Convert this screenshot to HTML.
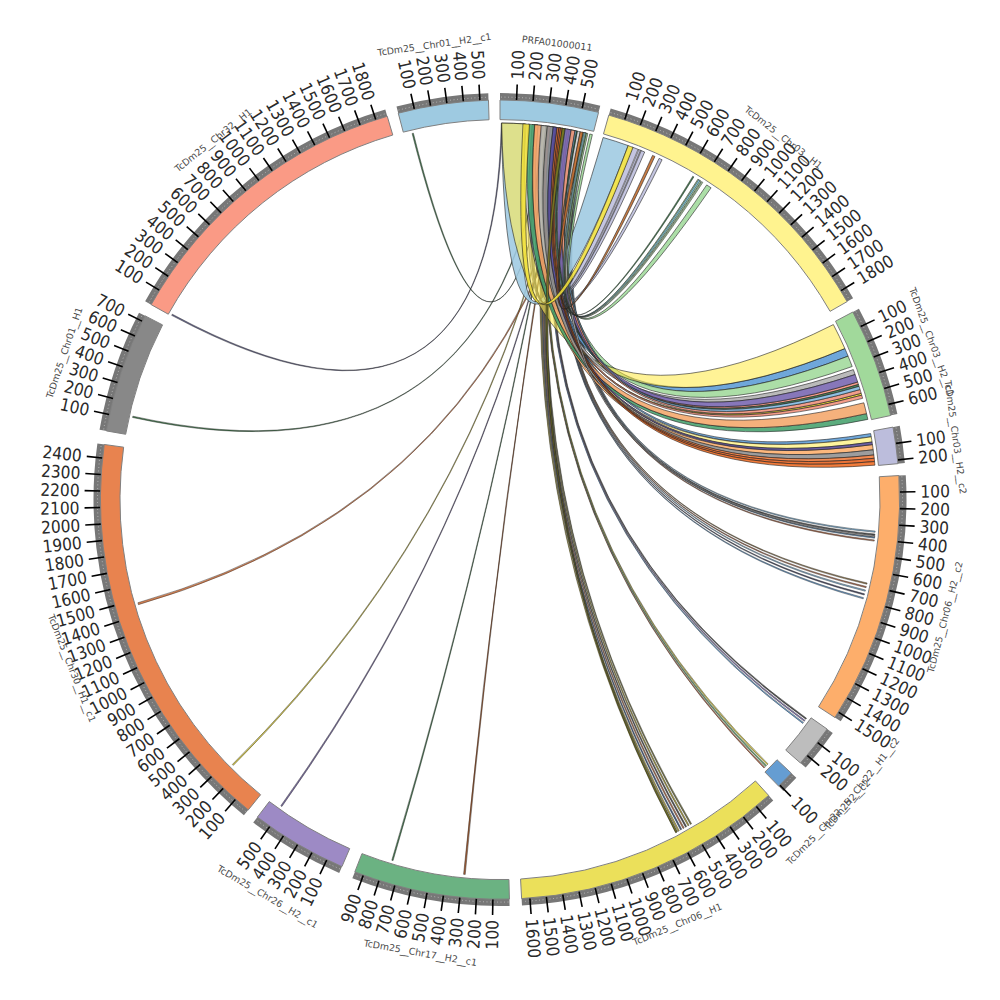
<!DOCTYPE html><html><head><meta charset="utf-8"><title>Circos plot</title><style>
html,body{margin:0;padding:0;background:#fff;width:1000px;height:1000px;overflow:hidden}
svg{display:block}
.tl{font-family:"DejaVu Sans","Liberation Sans",sans-serif;font-stretch:condensed;font-size:17.2px;fill:#2a2a2a}
.nm{font-family:"DejaVu Sans","Liberation Sans",sans-serif;font-size:9.4px;fill:#4a4a4a}.nm .u{letter-spacing:-0.55px}
</style></head><body>
<svg width="1000" height="1000" viewBox="0 0 1000 1000">
<rect width="1000" height="1000" fill="#fff"/>
<g stroke="#222" stroke-width="0.6" stroke-linejoin="round">
<path d="M582.13,132.17 A376.5,376.5 0 0 1 583.09,132.38 Q502.62,497.73 874.33,539.94 A376.5,376.5 0 0 1 874.20,541.11 Q502.49,497.82 582.13,132.17 Z" fill="#b0603a" fill-opacity="0.88" stroke-width="0.45"/>
<path d="M583.54,132.49 A376.5,376.5 0 0 1 584.50,132.71 Q502.88,497.53 874.64,536.99 A376.5,376.5 0 0 1 874.52,538.17 Q502.75,497.63 583.54,132.49 Z" fill="#5b9bd5" fill-opacity="0.88" stroke-width="0.45"/>
<path d="M584.95,132.81 A376.5,376.5 0 0 1 585.91,133.03 Q503.14,497.34 874.92,534.05 A376.5,376.5 0 0 1 874.81,535.23 Q503.01,497.43 584.95,132.81 Z" fill="#3a3a3a" fill-opacity="0.88" stroke-width="0.45"/>
<path d="M586.36,133.14 A376.5,376.5 0 0 1 587.32,133.37 Q503.40,497.14 875.18,531.10 A376.5,376.5 0 0 1 875.08,532.28 Q503.27,497.24 586.36,133.14 Z" fill="#7fb8e0" fill-opacity="0.88" stroke-width="0.45"/>
<path d="M571.19,129.89 A376.5,376.5 0 0 1 572.16,130.08 Q500.00,499.60 863.50,597.68 A376.5,376.5 0 0 1 863.19,598.82 Q500.00,499.60 571.19,129.89 Z" fill="#5b9bd5" fill-opacity="0.88" stroke-width="0.45"/>
<path d="M572.48,130.14 A376.5,376.5 0 0 1 573.45,130.33 Q500.00,499.60 864.51,593.87 A376.5,376.5 0 0 1 864.21,595.01 Q500.00,499.60 572.48,130.14 Z" fill="#3a3a5a" fill-opacity="0.88" stroke-width="0.45"/>
<path d="M573.77,130.40 A376.5,376.5 0 0 1 574.74,130.59 Q500.00,499.60 865.47,590.05 A376.5,376.5 0 0 1 865.19,591.19 Q500.00,499.60 573.77,130.40 Z" fill="#7fb8e0" fill-opacity="0.88" stroke-width="0.45"/>
<path d="M575.06,130.66 A376.5,376.5 0 0 1 576.03,130.86 Q500.00,499.60 866.33,586.53 A376.5,376.5 0 0 1 866.05,587.68 Q500.00,499.60 575.06,130.66 Z" fill="#b0603a" fill-opacity="0.88" stroke-width="0.45"/>
<path d="M576.35,130.92 A376.5,376.5 0 0 1 577.31,131.12 Q500.00,499.60 867.14,583.01 A376.5,376.5 0 0 1 866.88,584.17 Q500.00,499.60 576.35,130.92 Z" fill="#8c6d3a" fill-opacity="0.88" stroke-width="0.45"/>
<path d="M558.90,127.74 A376.5,376.5 0 0 1 559.87,127.89 Q500.00,499.60 803.43,722.49 A376.5,376.5 0 0 1 802.73,723.45 Q500.00,499.60 558.90,127.74 Z" fill="#5b9bd5" fill-opacity="0.88" stroke-width="0.45"/>
<path d="M560.20,127.94 A376.5,376.5 0 0 1 561.17,128.10 Q500.00,499.60 804.98,720.37 A376.5,376.5 0 0 1 804.29,721.33 Q500.00,499.60 560.20,127.94 Z" fill="#7b68b0" fill-opacity="0.88" stroke-width="0.45"/>
<path d="M561.49,128.16 A376.5,376.5 0 0 1 562.46,128.32 Q500.00,499.60 806.51,718.23 A376.5,376.5 0 0 1 805.83,719.20 Q500.00,499.60 561.49,128.16 Z" fill="#3a3a3a" fill-opacity="0.88" stroke-width="0.45"/>
<path d="M554.35,127.04 A376.5,376.5 0 0 1 555.13,127.16 Q500.00,499.60 764.83,767.22 A376.5,376.5 0 0 1 763.99,768.05 Q500.00,499.60 554.35,127.04 Z" fill="#b0603a" fill-opacity="0.88" stroke-width="0.45"/>
<path d="M555.33,127.19 A376.5,376.5 0 0 1 556.11,127.30 Q500.00,499.60 766.46,765.59 A376.5,376.5 0 0 1 765.62,766.43 Q500.00,499.60 555.33,127.19 Z" fill="#5aa860" fill-opacity="0.88" stroke-width="0.45"/>
<path d="M556.30,127.33 A376.5,376.5 0 0 1 557.08,127.45 Q500.00,499.60 768.08,763.96 A376.5,376.5 0 0 1 767.25,764.80 Q500.00,499.60 556.30,127.33 Z" fill="#e8d830" fill-opacity="0.88" stroke-width="0.45"/>
<path d="M551.75,126.67 A376.5,376.5 0 0 1 552.72,126.81 Q500.00,499.60 676.76,832.03 A376.5,376.5 0 0 1 675.59,832.64 Q500.00,499.60 551.75,126.67 Z" fill="#c8b830" fill-opacity="0.88" stroke-width="0.45"/>
<path d="M553.37,126.90 A376.5,376.5 0 0 1 554.35,127.04 Q500.00,499.60 679.25,830.69 A376.5,376.5 0 0 1 678.09,831.32 Q500.00,499.60 553.37,126.90 Z" fill="#b8a830" fill-opacity="0.88" stroke-width="0.45"/>
<path d="M555.00,127.14 A376.5,376.5 0 0 1 555.98,127.28 Q500.00,499.60 681.73,829.34 A376.5,376.5 0 0 1 680.57,829.97 Q500.00,499.60 555.00,127.14 Z" fill="#2a4a7a" fill-opacity="0.88" stroke-width="0.45"/>
<path d="M556.62,127.38 A376.5,376.5 0 0 1 557.60,127.53 Q500.00,499.60 684.20,827.97 A376.5,376.5 0 0 1 683.05,828.61 Q500.00,499.60 556.62,127.38 Z" fill="#b0603a" fill-opacity="0.88" stroke-width="0.45"/>
<path d="M558.25,127.63 A376.5,376.5 0 0 1 559.22,127.79 Q500.00,499.60 686.65,826.57 A376.5,376.5 0 0 1 685.51,827.22 Q500.00,499.60 558.25,127.63 Z" fill="#3a3a3a" fill-opacity="0.88" stroke-width="0.45"/>
<path d="M559.87,127.89 A376.5,376.5 0 0 1 560.84,128.05 Q500.00,499.60 689.10,825.16 A376.5,376.5 0 0 1 687.97,825.82 Q500.00,499.60 559.87,127.89 Z" fill="#a89a20" fill-opacity="0.88" stroke-width="0.45"/>
<path d="M561.49,128.16 A376.5,376.5 0 0 1 562.46,128.32 Q500.00,499.60 691.54,823.74 A376.5,376.5 0 0 1 690.41,824.40 Q500.00,499.60 561.49,128.16 Z" fill="#6a6a30" fill-opacity="0.88" stroke-width="0.45"/>
<path d="M562.46,128.32 A376.5,376.5 0 0 1 563.76,128.54 Q500.00,499.60 465.22,874.49 A376.5,376.5 0 0 1 463.59,874.34 Q500.00,499.60 562.46,128.32 Z" fill="#9a4a1a" fill-opacity="0.88" stroke-width="0.45"/>
<path d="M561.82,128.21 A376.5,376.5 0 0 1 562.79,128.37 Q500.00,499.60 393.07,860.60 A376.5,376.5 0 0 1 391.81,860.22 Q500.00,499.60 561.82,128.21 Z" fill="#2e6b3a" fill-opacity="0.88" stroke-width="0.45"/>
<path d="M569.26,129.52 A376.5,376.5 0 0 1 570.23,129.71 Q500.00,499.60 281.90,806.50 A376.5,376.5 0 0 1 280.83,805.73 Q500.00,499.60 569.26,129.52 Z" fill="#6a5a9a" fill-opacity="0.88" stroke-width="0.45"/>
<path d="M565.05,128.76 A376.5,376.5 0 0 1 566.03,128.93 Q500.00,499.60 233.31,765.36 A376.5,376.5 0 0 1 232.38,764.43 Q500.00,499.60 565.05,128.76 Z" fill="#d8c830" fill-opacity="0.88" stroke-width="0.45"/>
<path d="M584.37,132.68 A376.5,376.5 0 0 1 585.97,133.05 Q500.00,499.60 138.45,604.64 A376.5,376.5 0 0 1 137.90,602.75 Q500.00,499.60 584.37,132.68 Z" fill="#d0703a" fill-opacity="0.88" stroke-width="0.45"/>
<path d="M545.56,125.87 A376.5,376.5 0 0 1 546.54,125.99 Q498.45,497.41 132.57,417.47 A376.5,376.5 0 0 1 132.86,416.19 Q498.36,497.27 545.56,125.87 Z" fill="#2e6b3a" fill-opacity="0.88" stroke-width="0.45"/>
<path d="M501.31,123.10 A376.5,376.5 0 0 1 502.30,123.11 Q493.19,487.88 171.67,315.35 A376.5,376.5 0 0 1 172.31,314.20 Q493.12,487.75 501.31,123.10 Z" fill="#4a4a7a" fill-opacity="0.88" stroke-width="0.45"/>
<path d="M553.70,126.95 A376.5,376.5 0 0 1 554.68,127.09 Q498.83,473.64 412.11,133.50 A376.5,376.5 0 0 1 413.39,133.20 Q498.84,473.57 553.70,126.95 Z" fill="#2e6b3a" fill-opacity="0.88" stroke-width="0.45"/>
<path d="M501.64,123.10 A376.5,376.5 0 0 1 526.26,124.02 Q504.73,472.61 603.15,137.50 A376.5,376.5 0 0 1 628.15,145.58 Q504.61,473.64 501.64,123.10 Z" fill="#9ecae1" fill-opacity="0.88"/>
<path d="M532.16,124.48 A376.5,376.5 0 0 1 541.31,125.37 Q506.31,473.21 632.47,147.17 A376.5,376.5 0 0 1 644.69,152.01 Q506.34,473.69 532.16,124.48 Z" fill="#bcbddc" fill-opacity="0.88"/>
<path d="M536.09,124.83 A376.5,376.5 0 0 1 536.74,124.90 Q506.31,473.42 637.99,149.30 A376.5,376.5 0 0 1 638.90,149.66 Q506.31,473.46 536.09,124.83 Z" fill="#dddddd" fill-opacity="0.88" stroke-width="0.45"/>
<path d="M537.39,124.96 A376.5,376.5 0 0 1 538.05,125.03 Q506.44,473.48 640.43,150.27 A376.5,376.5 0 0 1 641.34,150.64 Q506.44,473.52 537.39,124.96 Z" fill="#aaaaaa" fill-opacity="0.88" stroke-width="0.45"/>
<path d="M541.31,125.37 A376.5,376.5 0 0 1 543.93,125.67 Q507.26,474.03 659.12,158.38 A376.5,376.5 0 0 1 662.09,159.78 Q507.24,474.17 541.31,125.37 Z" fill="#bcbddc" fill-opacity="0.88"/>
<path d="M547.84,126.15 A376.5,376.5 0 0 1 555.65,127.24 Q509.05,487.77 844.88,348.57 A376.5,376.5 0 0 1 848.09,356.13 Q508.44,488.59 547.84,126.15 Z" fill="#5b9bd5" fill-opacity="0.88"/>
<path d="M564.08,128.59 A376.5,376.5 0 0 1 575.06,130.66 Q509.94,487.56 848.09,356.13 A376.5,376.5 0 0 1 852.19,366.52 Q509.05,488.64 564.08,128.59 Z" fill="#a1d99b" fill-opacity="0.88"/>
<path d="M558.90,127.74 A376.5,376.5 0 0 1 561.49,128.16 Q506.57,492.95 870.67,433.57 A376.5,376.5 0 0 1 871.23,436.81 Q506.28,493.25 558.90,127.74 Z" fill="#5b9bd5" fill-opacity="0.88"/>
<path d="M541.97,125.45 A376.5,376.5 0 0 1 545.88,125.91 Q505.53,493.82 871.23,436.81 A376.5,376.5 0 0 1 872.07,442.00 Q505.08,494.30 541.97,125.45 Z" fill="#fff38f" fill-opacity="0.88"/>
<path d="M534.12,124.65 A376.5,376.5 0 0 1 538.05,125.03 Q504.75,494.63 872.46,444.60 A376.5,376.5 0 0 1 873.19,449.81 Q504.29,495.12 534.12,124.65 Z" fill="#fdae6b" fill-opacity="0.88"/>
<path d="M567.32,129.17 A376.5,376.5 0 0 1 569.26,129.52 Q508.89,489.45 857.66,382.01 A376.5,376.5 0 0 1 858.48,384.51 Q508.70,489.68 567.32,129.17 Z" fill="#f4907a" fill-opacity="0.88"/>
<path d="M562.14,128.26 A376.5,376.5 0 0 1 564.08,128.59 Q508.51,489.81 858.48,384.51 A376.5,376.5 0 0 1 859.07,386.38 Q508.34,490.01 562.14,128.26 Z" fill="#3a7a4a" fill-opacity="0.88"/>
<path d="M545.88,125.91 A376.5,376.5 0 0 1 547.84,126.15 Q507.30,491.04 861.18,393.30 A376.5,376.5 0 0 1 861.73,395.19 Q507.13,491.24 545.88,125.91 Z" fill="#f0dc20" fill-opacity="0.88"/>
<path d="M547.84,126.15 A376.5,376.5 0 0 1 550.45,126.49 Q507.38,491.05 861.73,395.19 A376.5,376.5 0 0 1 862.63,398.35 Q507.13,491.36 547.84,126.15 Z" fill="#f4907a" fill-opacity="0.88"/>
<path d="M524.95,123.93 A376.5,376.5 0 0 0 501.64,123.10 Q506.81,488.38 833.35,324.59 A376.5,376.5 0 0 1 844.88,348.57 Q507.42,489.04 524.95,123.93 Z" fill="#ffeb50" fill-opacity="0.6"/>
<path d="M528.23,124.16 A376.5,376.5 0 0 1 534.78,124.71 Q505.83,492.90 866.55,413.63 A376.5,376.5 0 0 1 867.86,419.39 Q505.25,493.56 528.23,124.16 Z" fill="#45a06c" fill-opacity="0.88"/>
<path d="M534.78,124.71 A376.5,376.5 0 0 1 541.97,125.45 Q506.64,491.89 863.84,402.79 A376.5,376.5 0 0 1 866.55,413.63 Q505.83,492.90 534.78,124.71 Z" fill="#f4a66a" fill-opacity="0.88"/>
<path d="M541.18,125.36 A376.5,376.5 0 0 1 547.51,126.11 Q508.04,489.50 853.34,369.60 A376.5,376.5 0 0 1 855.12,374.54 Q507.54,490.10 541.18,125.36 Z" fill="#b0b0b0" fill-opacity="0.88"/>
<path d="M547.19,126.07 A376.5,376.5 0 0 1 553.24,126.88 Q505.39,494.26 873.19,449.81 A376.5,376.5 0 0 1 873.85,455.02 Q504.81,494.83 547.19,126.07 Z" fill="#909090" fill-opacity="0.88"/>
<path d="M553.24,126.88 A376.5,376.5 0 0 1 557.21,127.47 Q505.96,493.63 872.07,442.00 A376.5,376.5 0 0 1 872.46,444.60 Q505.62,493.95 553.24,126.88 Z" fill="#5a4a9a" fill-opacity="0.88"/>
<path d="M557.21,127.47 A376.5,376.5 0 0 1 558.90,127.74 Q505.49,494.31 873.85,455.02 A376.5,376.5 0 0 1 874.23,458.29 Q505.25,494.57 557.21,127.47 Z" fill="#f07a3a" fill-opacity="0.88"/>
<path d="M558.90,127.74 A376.5,376.5 0 0 1 560.52,128.00 Q505.44,494.43 874.23,458.29 A376.5,376.5 0 0 1 874.57,461.55 Q505.20,494.69 558.90,127.74 Z" fill="#e8601c" fill-opacity="0.88"/>
<path d="M560.52,128.00 A376.5,376.5 0 0 1 562.21,128.27 Q505.39,494.54 874.57,461.55 A376.5,376.5 0 0 1 874.92,465.15 Q505.13,494.82 560.52,128.00 Z" fill="#f06a20" fill-opacity="0.88"/>
<path d="M562.21,128.27 A376.5,376.5 0 0 1 565.18,128.79 Q500.00,499.60 677.34,831.72 A376.5,376.5 0 0 1 675.89,832.49 Q500.00,499.60 562.21,128.27 Z" fill="#7a7a20" fill-opacity="0.88"/>
<path d="M565.18,128.79 A376.5,376.5 0 0 1 571.19,129.89 Q509.22,488.90 855.12,374.54 A376.5,376.5 0 0 1 857.66,382.01 Q508.65,489.61 565.18,128.79 Z" fill="#7664b0" fill-opacity="0.88"/>
<path d="M571.19,129.89 A376.5,376.5 0 0 1 575.06,130.66 Q508.98,489.71 860.05,389.52 A376.5,376.5 0 0 1 861.18,393.30 Q508.63,490.09 571.19,129.89 Z" fill="#f0907a" fill-opacity="0.88"/>
<path d="M575.06,130.66 A376.5,376.5 0 0 1 577.25,131.11 Q509.21,489.43 859.07,386.38 A376.5,376.5 0 0 1 860.05,389.52 Q508.98,489.71 575.06,130.66 Z" fill="#80b8e0" fill-opacity="0.88"/>
<path d="M577.25,131.11 A376.5,376.5 0 0 1 580.21,131.74 Q502.68,497.65 874.77,535.69 A376.5,376.5 0 0 1 874.64,536.99 Q502.42,497.83 577.25,131.11 Z" fill="#c8c8c8" fill-opacity="0.88"/>
<path d="M580.21,131.74 A376.5,376.5 0 0 1 583.28,132.43 Q508.64,473.52 652.54,155.38 A376.5,376.5 0 0 1 654.94,156.46 Q508.60,473.60 580.21,131.74 Z" fill="#c06a2a" fill-opacity="0.88"/>
<path d="M576.35,130.92 A376.5,376.5 0 0 1 577.31,131.12 Q509.63,474.93 692.78,176.20 A376.5,376.5 0 0 1 693.91,176.88 Q509.62,474.99 576.35,130.92 Z" fill="#2e6b3a" fill-opacity="0.88" stroke-width="0.45"/>
<path d="M583.28,132.43 A376.5,376.5 0 0 1 586.36,133.14 Q510.16,475.06 697.84,179.27 A376.5,376.5 0 0 1 701.18,181.36 Q510.12,475.23 583.28,132.43 Z" fill="#a1d99b" fill-opacity="0.88"/>
<path d="M584.05,132.60 A376.5,376.5 0 0 1 585.33,132.90 Q510.14,475.10 698.68,179.79 A376.5,376.5 0 0 1 700.07,180.66 Q510.12,475.17 584.05,132.60 Z" fill="#7fb8e0" fill-opacity="0.88" stroke-width="0.45"/>
<path d="M586.36,133.14 A376.5,376.5 0 0 1 587.89,133.50 Q510.33,475.21 701.74,181.71 A376.5,376.5 0 0 1 702.85,182.42 Q510.29,475.27 586.36,133.14 Z" fill="#98c088" fill-opacity="0.88" stroke-width="0.45"/>
<path d="M589.81,133.97 A376.5,376.5 0 0 1 592.36,134.60 Q510.66,475.38 706.71,184.92 A376.5,376.5 0 0 1 711.08,187.84 Q510.66,475.60 589.81,133.97 Z" fill="#a1d99b" fill-opacity="0.88"/>
<path d="M522.98,123.80 A376.5,376.5 0 0 1 529.54,124.26 Q505.87,473.36 633.08,147.41 A376.5,376.5 0 0 0 628.15,145.58 Q505.45,473.30 522.98,123.80 Z" fill="#efdf3a" fill-opacity="0.88"/>
</g>
<path d="M500.00,93.10 A406.5,406.5 0 0 1 600.27,105.66 L598.44,112.83 A399.1,399.1 0 0 0 500.00,100.50 Z" fill="#777"/>
<path d="M501.05,97.10 A402.5,402.5 0 0 1 598.26,109.28" fill="none" stroke="#fff" stroke-opacity="0.55" stroke-width="0.9" stroke-dasharray="0.9 2.6"/>
<path d="M500.00,100.00 A399.6,399.6 0 0 1 598.57,112.35 L593.73,131.34 A380.0,380.0 0 0 0 500.00,119.60 Z" fill="#9ecae1" stroke="#808080" stroke-width="1"/>
<path d="M610.68,108.46 A406.5,406.5 0 0 1 853.10,298.20 L846.67,301.86 A399.1,399.1 0 0 0 608.67,115.58 Z" fill="#777"/>
<path d="M610.61,112.60 A402.5,402.5 0 0 1 849.10,299.26" fill="none" stroke="#fff" stroke-opacity="0.55" stroke-width="0.9" stroke-dasharray="0.9 2.6"/>
<path d="M608.80,115.10 A399.6,399.6 0 0 1 847.11,301.61 L830.08,311.33 A380.0,380.0 0 0 0 603.47,133.96 Z" fill="#fff38f" stroke="#808080" stroke-width="1"/>
<path d="M858.92,308.76 A406.5,406.5 0 0 1 897.39,414.04 L890.16,415.60 A399.1,399.1 0 0 0 852.38,312.23 Z" fill="#777"/>
<path d="M855.88,311.57 A402.5,402.5 0 0 1 893.26,413.86" fill="none" stroke="#fff" stroke-opacity="0.55" stroke-width="0.9" stroke-dasharray="0.9 2.6"/>
<path d="M852.83,312.00 A399.6,399.6 0 0 1 890.65,415.50 L871.49,419.62 A380.0,380.0 0 0 0 835.52,321.20 Z" fill="#a1d99b" stroke="#808080" stroke-width="1"/>
<path d="M899.76,425.87 A406.5,406.5 0 0 1 904.85,463.04 L897.48,463.71 A399.1,399.1 0 0 0 892.48,427.21 Z" fill="#777"/>
<path d="M896.01,427.63 A402.5,402.5 0 0 1 900.77,462.35" fill="none" stroke="#fff" stroke-opacity="0.55" stroke-width="0.9" stroke-dasharray="0.9 2.6"/>
<path d="M892.97,427.12 A399.6,399.6 0 0 1 897.98,463.66 L878.46,465.42 A380.0,380.0 0 0 0 873.70,430.68 Z" fill="#bcbddc" stroke="#808080" stroke-width="1"/>
<path d="M905.76,475.14 A406.5,406.5 0 0 1 840.73,721.29 L834.52,717.26 A399.1,399.1 0 0 0 898.38,475.58 Z" fill="#777"/>
<path d="M901.83,476.43 A402.5,402.5 0 0 1 837.95,718.23" fill="none" stroke="#fff" stroke-opacity="0.55" stroke-width="0.9" stroke-dasharray="0.9 2.6"/>
<path d="M898.88,475.55 A399.6,399.6 0 0 1 834.94,717.53 L818.51,706.84 A380.0,380.0 0 0 0 879.31,476.73 Z" fill="#fdae6b" stroke="#808080" stroke-width="1"/>
<path d="M832.78,733.05 A406.5,406.5 0 0 1 805.67,767.57 L800.11,762.69 A399.1,399.1 0 0 0 826.72,728.80 Z" fill="#777"/>
<path d="M828.90,731.61 A402.5,402.5 0 0 1 803.36,764.14" fill="none" stroke="#fff" stroke-opacity="0.55" stroke-width="0.9" stroke-dasharray="0.9 2.6"/>
<path d="M827.13,729.09 A399.6,399.6 0 0 1 800.48,763.02 L785.74,750.10 A380.0,380.0 0 0 0 811.09,717.83 Z" fill="#bdbdbd" stroke="#808080" stroke-width="1"/>
<path d="M796.33,777.87 A406.5,406.5 0 0 1 783.40,791.02 L778.24,785.72 A399.1,399.1 0 0 0 790.93,772.80 Z" fill="#777"/>
<path d="M792.69,775.90 A402.5,402.5 0 0 1 781.36,787.42" fill="none" stroke="#fff" stroke-opacity="0.55" stroke-width="0.9" stroke-dasharray="0.9 2.6"/>
<path d="M791.30,773.15 A399.6,399.6 0 0 1 778.59,786.08 L764.92,772.03 A380.0,380.0 0 0 0 777.01,759.73 Z" fill="#659dd2" stroke="#808080" stroke-width="1"/>
<path d="M773.26,800.55 A406.5,406.5 0 0 1 521.98,905.51 L521.58,898.12 A399.1,399.1 0 0 0 768.29,795.07 Z" fill="#777"/>
<path d="M769.79,798.29 A402.5,402.5 0 0 1 522.82,901.45" fill="none" stroke="#fff" stroke-opacity="0.55" stroke-width="0.9" stroke-dasharray="0.9 2.6"/>
<path d="M768.63,795.44 A399.6,399.6 0 0 1 521.61,898.62 L520.55,879.04 A380.0,380.0 0 0 0 755.45,780.93 Z" fill="#ebe05a" stroke="#808080" stroke-width="1"/>
<path d="M509.58,905.99 A406.5,406.5 0 0 1 352.34,878.33 L355.03,871.44 A399.1,399.1 0 0 0 509.40,898.59 Z" fill="#777"/>
<path d="M508.43,902.01 A402.5,402.5 0 0 1 354.77,874.99" fill="none" stroke="#fff" stroke-opacity="0.55" stroke-width="0.9" stroke-dasharray="0.9 2.6"/>
<path d="M509.41,899.09 A399.6,399.6 0 0 1 354.84,871.90 L361.96,853.64 A380.0,380.0 0 0 0 508.95,879.49 Z" fill="#6bb282" stroke="#808080" stroke-width="1"/>
<path d="M339.21,872.95 A406.5,406.5 0 0 1 253.21,822.62 L257.71,816.74 A399.1,399.1 0 0 0 342.14,866.15 Z" fill="#777"/>
<path d="M339.83,868.86 A402.5,402.5 0 0 1 256.48,820.08" fill="none" stroke="#fff" stroke-opacity="0.55" stroke-width="0.9" stroke-dasharray="0.9 2.6"/>
<path d="M341.94,866.61 A399.6,399.6 0 0 1 257.40,817.13 L269.30,801.56 A380.0,380.0 0 0 0 349.69,848.61 Z" fill="#9d8ac5" stroke="#808080" stroke-width="1"/>
<path d="M243.91,815.29 A406.5,406.5 0 0 1 97.39,443.52 L104.72,444.54 A399.1,399.1 0 0 0 248.57,809.54 Z" fill="#777"/>
<path d="M245.61,811.52 A402.5,402.5 0 0 1 101.20,445.11" fill="none" stroke="#fff" stroke-opacity="0.55" stroke-width="0.9" stroke-dasharray="0.9 2.6"/>
<path d="M248.25,809.93 A399.6,399.6 0 0 1 104.22,444.47 L123.63,447.17 A380.0,380.0 0 0 0 260.60,794.71 Z" fill="#e8834f" stroke="#808080" stroke-width="1"/>
<path d="M99.55,429.71 A406.5,406.5 0 0 1 139.01,312.72 L145.58,316.12 A399.1,399.1 0 0 0 106.84,430.98 Z" fill="#777"/>
<path d="M103.68,429.36 A402.5,402.5 0 0 1 142.07,315.49" fill="none" stroke="#fff" stroke-opacity="0.55" stroke-width="0.9" stroke-dasharray="0.9 2.6"/>
<path d="M106.35,430.90 A399.6,399.6 0 0 1 145.13,315.89 L162.54,324.90 A380.0,380.0 0 0 0 125.66,434.27 Z" fill="#888888" stroke="#808080" stroke-width="1"/>
<path d="M145.16,301.29 A406.5,406.5 0 0 1 385.30,109.62 L387.38,116.72 A399.1,399.1 0 0 0 151.62,304.90 Z" fill="#777"/>
<path d="M149.16,302.32 A402.5,402.5 0 0 1 385.41,113.75" fill="none" stroke="#fff" stroke-opacity="0.55" stroke-width="0.9" stroke-dasharray="0.9 2.6"/>
<path d="M151.18,304.65 A399.6,399.6 0 0 1 387.24,116.24 L392.77,135.04 A380.0,380.0 0 0 0 168.29,314.21 Z" fill="#fa9a85" stroke="#808080" stroke-width="1"/>
<path d="M396.50,106.50 A406.5,406.5 0 0 1 488.30,93.27 L488.51,100.67 A399.1,399.1 0 0 0 398.39,113.65 Z" fill="#777"/>
<path d="M398.54,110.10 A402.5,402.5 0 0 1 487.36,97.30" fill="none" stroke="#fff" stroke-opacity="0.55" stroke-width="0.9" stroke-dasharray="0.9 2.6"/>
<path d="M398.26,113.17 A399.6,399.6 0 0 1 488.49,100.17 L489.06,119.76 A380.0,380.0 0 0 0 403.25,132.12 Z" fill="#9ecae1" stroke="#808080" stroke-width="1"/>
<g stroke="#000" stroke-width="1.6">
<line x1="516.55" y1="99.94" x2="517.20" y2="84.46"/>
<line x1="533.08" y1="100.97" x2="534.36" y2="85.52"/>
<line x1="549.55" y1="102.68" x2="551.47" y2="87.30"/>
<line x1="565.94" y1="105.07" x2="568.49" y2="89.78"/>
<line x1="582.21" y1="108.14" x2="585.39" y2="92.97"/>
<line x1="624.75" y1="119.55" x2="629.58" y2="104.82"/>
<line x1="640.37" y1="125.04" x2="645.81" y2="110.52"/>
<line x1="655.75" y1="131.17" x2="661.79" y2="116.89"/>
<line x1="670.87" y1="137.93" x2="677.49" y2="123.92"/>
<line x1="685.69" y1="145.31" x2="692.88" y2="131.58"/>
<line x1="700.19" y1="153.30" x2="707.95" y2="139.88"/>
<line x1="714.35" y1="161.88" x2="722.66" y2="148.80"/>
<line x1="728.15" y1="171.04" x2="736.99" y2="158.31"/>
<line x1="741.55" y1="180.77" x2="750.91" y2="168.41"/>
<line x1="754.54" y1="191.04" x2="764.40" y2="179.08"/>
<line x1="767.09" y1="201.84" x2="777.44" y2="190.30"/>
<line x1="779.19" y1="213.15" x2="790.00" y2="202.05"/>
<line x1="790.80" y1="224.95" x2="802.07" y2="214.30"/>
<line x1="801.92" y1="237.22" x2="813.62" y2="227.05"/>
<line x1="812.52" y1="249.94" x2="824.63" y2="240.26"/>
<line x1="822.59" y1="263.09" x2="835.09" y2="253.92"/>
<line x1="832.10" y1="276.64" x2="844.97" y2="268.00"/>
<line x1="841.04" y1="290.58" x2="854.26" y2="282.48"/>
<line x1="860.65" y1="326.59" x2="874.62" y2="319.89"/>
<line x1="867.50" y1="341.66" x2="881.74" y2="335.54"/>
<line x1="873.72" y1="357.01" x2="888.20" y2="351.48"/>
<line x1="879.30" y1="372.60" x2="894.00" y2="367.68"/>
<line x1="884.23" y1="388.41" x2="899.12" y2="384.10"/>
<line x1="888.51" y1="404.40" x2="903.56" y2="400.71"/>
<line x1="896.03" y1="443.39" x2="911.38" y2="441.21"/>
<line x1="898.02" y1="459.83" x2="913.44" y2="458.29"/>
<line x1="899.93" y1="492.07" x2="915.43" y2="491.78"/>
<line x1="899.90" y1="508.63" x2="915.39" y2="508.98"/>
<line x1="899.18" y1="525.18" x2="914.65" y2="526.17"/>
<line x1="897.78" y1="541.68" x2="913.19" y2="543.31"/>
<line x1="895.70" y1="558.10" x2="911.03" y2="560.37"/>
<line x1="892.94" y1="574.43" x2="908.16" y2="577.33"/>
<line x1="889.50" y1="590.63" x2="904.60" y2="594.15"/>
<line x1="885.40" y1="606.67" x2="900.34" y2="610.82"/>
<line x1="880.64" y1="622.53" x2="895.39" y2="627.29"/>
<line x1="875.23" y1="638.18" x2="889.77" y2="643.55"/>
<line x1="869.17" y1="653.59" x2="883.48" y2="659.56"/>
<line x1="862.48" y1="668.74" x2="876.53" y2="675.29"/>
<line x1="855.17" y1="683.59" x2="868.93" y2="690.72"/>
<line x1="847.25" y1="698.14" x2="860.71" y2="705.83"/>
<line x1="838.74" y1="712.34" x2="851.86" y2="720.58"/>
<line x1="817.67" y1="742.67" x2="829.98" y2="752.09"/>
<line x1="807.34" y1="755.61" x2="819.25" y2="765.53"/>
<line x1="780.00" y1="785.25" x2="790.86" y2="796.32"/>
<line x1="756.41" y1="806.61" x2="766.34" y2="818.51"/>
<line x1="743.48" y1="816.96" x2="752.92" y2="829.26"/>
<line x1="730.14" y1="826.76" x2="739.06" y2="839.44"/>
<line x1="716.40" y1="836.01" x2="724.79" y2="849.04"/>
<line x1="702.29" y1="844.68" x2="710.13" y2="858.05"/>
<line x1="687.84" y1="852.75" x2="695.12" y2="866.44"/>
<line x1="673.06" y1="860.22" x2="679.77" y2="874.20"/>
<line x1="657.99" y1="867.08" x2="664.11" y2="881.32"/>
<line x1="642.64" y1="873.30" x2="648.17" y2="887.78"/>
<line x1="627.05" y1="878.89" x2="631.98" y2="893.58"/>
<line x1="611.25" y1="883.82" x2="615.56" y2="898.71"/>
<line x1="595.25" y1="888.09" x2="598.94" y2="903.15"/>
<line x1="579.09" y1="891.70" x2="582.16" y2="906.90"/>
<line x1="562.79" y1="894.64" x2="565.23" y2="909.95"/>
<line x1="546.39" y1="896.90" x2="548.19" y2="912.30"/>
<line x1="529.91" y1="898.48" x2="531.07" y2="913.94"/>
<line x1="492.87" y1="899.54" x2="492.59" y2="915.03"/>
<line x1="476.32" y1="898.90" x2="475.40" y2="914.37"/>
<line x1="459.81" y1="897.58" x2="458.26" y2="913.00"/>
<line x1="443.38" y1="895.57" x2="441.18" y2="910.92"/>
<line x1="427.04" y1="892.89" x2="424.21" y2="908.13"/>
<line x1="410.82" y1="889.53" x2="407.37" y2="904.64"/>
<line x1="394.76" y1="885.51" x2="390.68" y2="900.46"/>
<line x1="378.88" y1="880.82" x2="374.19" y2="895.59"/>
<line x1="363.21" y1="875.48" x2="357.90" y2="890.05"/>
<line x1="326.71" y1="860.12" x2="320.00" y2="874.09"/>
<line x1="311.94" y1="852.63" x2="304.65" y2="866.31"/>
<line x1="297.49" y1="844.55" x2="289.64" y2="857.92"/>
<line x1="283.39" y1="835.87" x2="274.99" y2="848.90"/>
<line x1="269.66" y1="826.62" x2="260.73" y2="839.29"/>
<line x1="235.36" y1="799.54" x2="225.11" y2="811.17"/>
<line x1="223.17" y1="788.33" x2="212.45" y2="799.52"/>
<line x1="211.46" y1="776.63" x2="200.28" y2="787.36"/>
<line x1="200.24" y1="764.45" x2="188.63" y2="774.71"/>
<line x1="189.54" y1="751.82" x2="177.51" y2="761.59"/>
<line x1="179.36" y1="738.75" x2="166.94" y2="748.02"/>
<line x1="169.74" y1="725.28" x2="156.94" y2="734.02"/>
<line x1="160.68" y1="711.41" x2="147.54" y2="719.62"/>
<line x1="152.21" y1="697.19" x2="138.73" y2="704.85"/>
<line x1="144.33" y1="682.63" x2="130.55" y2="689.72"/>
<line x1="137.06" y1="667.75" x2="123.00" y2="674.26"/>
<line x1="130.41" y1="652.58" x2="116.09" y2="658.51"/>
<line x1="124.40" y1="637.16" x2="109.84" y2="642.49"/>
<line x1="119.02" y1="621.49" x2="104.26" y2="626.22"/>
<line x1="114.31" y1="605.62" x2="99.36" y2="609.73"/>
<line x1="110.25" y1="589.57" x2="95.15" y2="593.05"/>
<line x1="106.86" y1="573.36" x2="91.63" y2="576.22"/>
<line x1="104.14" y1="557.02" x2="88.80" y2="559.25"/>
<line x1="102.11" y1="540.59" x2="86.69" y2="542.18"/>
<line x1="100.75" y1="524.09" x2="85.28" y2="525.04"/>
<line x1="100.08" y1="507.54" x2="84.58" y2="507.85"/>
<line x1="100.09" y1="490.99" x2="84.60" y2="490.65"/>
<line x1="100.79" y1="474.44" x2="85.32" y2="473.47"/>
<line x1="102.18" y1="457.94" x2="86.76" y2="456.33"/>
<line x1="109.14" y1="414.58" x2="93.99" y2="411.28"/>
<line x1="112.99" y1="398.48" x2="98.00" y2="394.56"/>
<line x1="117.51" y1="382.54" x2="102.69" y2="378.01"/>
<line x1="122.68" y1="366.81" x2="108.06" y2="361.67"/>
<line x1="128.50" y1="351.31" x2="114.11" y2="345.57"/>
<line x1="134.96" y1="336.06" x2="120.81" y2="329.73"/>
<line x1="142.04" y1="321.10" x2="128.17" y2="314.18"/>
<line x1="159.21" y1="290.17" x2="146.00" y2="282.06"/>
<line x1="168.17" y1="276.25" x2="155.31" y2="267.59"/>
<line x1="177.69" y1="262.70" x2="165.21" y2="253.53"/>
<line x1="187.78" y1="249.57" x2="175.68" y2="239.88"/>
<line x1="198.39" y1="236.86" x2="186.70" y2="226.68"/>
<line x1="209.52" y1="224.60" x2="198.27" y2="213.95"/>
<line x1="221.15" y1="212.82" x2="210.35" y2="201.70"/>
<line x1="233.26" y1="201.52" x2="222.93" y2="189.97"/>
<line x1="245.83" y1="190.74" x2="235.98" y2="178.77"/>
<line x1="258.83" y1="180.48" x2="249.48" y2="168.12"/>
<line x1="272.24" y1="170.77" x2="263.42" y2="158.03"/>
<line x1="286.05" y1="161.63" x2="277.76" y2="148.53"/>
<line x1="300.22" y1="153.06" x2="292.48" y2="139.64"/>
<line x1="314.73" y1="145.09" x2="307.55" y2="131.36"/>
<line x1="329.56" y1="137.73" x2="322.96" y2="123.71"/>
<line x1="344.68" y1="130.98" x2="338.67" y2="116.70"/>
<line x1="360.07" y1="124.87" x2="354.65" y2="110.35"/>
<line x1="375.70" y1="119.40" x2="370.89" y2="104.67"/>
<line x1="414.26" y1="108.90" x2="410.93" y2="93.76"/>
<line x1="430.50" y1="105.68" x2="427.81" y2="90.42"/>
<line x1="446.86" y1="103.15" x2="444.80" y2="87.78"/>
<line x1="463.32" y1="101.29" x2="461.89" y2="85.85"/>
<line x1="479.83" y1="100.11" x2="479.05" y2="84.63"/>
</g>
<text class="tl" x="517.40" y="79.46" text-anchor="start" dominant-baseline="central" transform="rotate(-87.63 517.40 79.46)">100</text>
<text class="tl" x="534.78" y="80.54" text-anchor="start" dominant-baseline="central" transform="rotate(-85.26 534.78 80.54)">200</text>
<text class="tl" x="552.09" y="82.34" text-anchor="start" dominant-baseline="central" transform="rotate(-82.88 552.09 82.34)">300</text>
<text class="tl" x="569.32" y="84.85" text-anchor="start" dominant-baseline="central" transform="rotate(-80.51 569.32 84.85)">400</text>
<text class="tl" x="586.42" y="88.08" text-anchor="start" dominant-baseline="central" transform="rotate(-78.14 586.42 88.08)">500</text>
<text class="tl" x="631.14" y="100.07" text-anchor="start" dominant-baseline="central" transform="rotate(-71.83 631.14 100.07)">100</text>
<text class="tl" x="647.56" y="105.84" text-anchor="start" dominant-baseline="central" transform="rotate(-69.46 647.56 105.84)">200</text>
<text class="tl" x="663.73" y="112.29" text-anchor="start" dominant-baseline="central" transform="rotate(-67.08 663.73 112.29)">300</text>
<text class="tl" x="679.62" y="119.40" text-anchor="start" dominant-baseline="central" transform="rotate(-64.71 679.62 119.40)">400</text>
<text class="tl" x="695.21" y="127.16" text-anchor="start" dominant-baseline="central" transform="rotate(-62.34 695.21 127.16)">500</text>
<text class="tl" x="710.45" y="135.55" text-anchor="start" dominant-baseline="central" transform="rotate(-59.97 710.45 135.55)">600</text>
<text class="tl" x="725.34" y="144.58" text-anchor="start" dominant-baseline="central" transform="rotate(-57.60 725.34 144.58)">700</text>
<text class="tl" x="739.84" y="154.21" text-anchor="start" dominant-baseline="central" transform="rotate(-55.22 739.84 154.21)">800</text>
<text class="tl" x="753.93" y="164.43" text-anchor="start" dominant-baseline="central" transform="rotate(-52.85 753.93 164.43)">900</text>
<text class="tl" x="767.58" y="175.23" text-anchor="start" dominant-baseline="central" transform="rotate(-50.48 767.58 175.23)">1000</text>
<text class="tl" x="780.78" y="186.58" text-anchor="start" dominant-baseline="central" transform="rotate(-48.11 780.78 186.58)">1100</text>
<text class="tl" x="793.49" y="198.47" text-anchor="start" dominant-baseline="central" transform="rotate(-45.74 793.49 198.47)">1200</text>
<text class="tl" x="805.71" y="210.87" text-anchor="start" dominant-baseline="central" transform="rotate(-43.36 805.71 210.87)">1300</text>
<text class="tl" x="817.39" y="223.77" text-anchor="start" dominant-baseline="central" transform="rotate(-40.99 817.39 223.77)">1400</text>
<text class="tl" x="828.54" y="237.14" text-anchor="start" dominant-baseline="central" transform="rotate(-38.62 828.54 237.14)">1500</text>
<text class="tl" x="839.12" y="250.97" text-anchor="start" dominant-baseline="central" transform="rotate(-36.25 839.12 250.97)">1600</text>
<text class="tl" x="849.12" y="265.21" text-anchor="start" dominant-baseline="central" transform="rotate(-33.88 849.12 265.21)">1700</text>
<text class="tl" x="858.52" y="279.86" text-anchor="start" dominant-baseline="central" transform="rotate(-31.50 858.52 279.86)">1800</text>
<text class="tl" x="879.13" y="317.72" text-anchor="start" dominant-baseline="central" transform="rotate(-25.63 879.13 317.72)">100</text>
<text class="tl" x="886.33" y="333.57" text-anchor="start" dominant-baseline="central" transform="rotate(-23.26 886.33 333.57)">200</text>
<text class="tl" x="892.87" y="349.70" text-anchor="start" dominant-baseline="central" transform="rotate(-20.88 892.87 349.70)">300</text>
<text class="tl" x="898.74" y="366.09" text-anchor="start" dominant-baseline="central" transform="rotate(-18.51 898.74 366.09)">400</text>
<text class="tl" x="903.93" y="382.71" text-anchor="start" dominant-baseline="central" transform="rotate(-16.14 903.93 382.71)">500</text>
<text class="tl" x="908.42" y="399.52" text-anchor="start" dominant-baseline="central" transform="rotate(-13.77 908.42 399.52)">600</text>
<text class="tl" x="916.33" y="440.51" text-anchor="start" dominant-baseline="central" transform="rotate(-8.08 916.33 440.51)">100</text>
<text class="tl" x="918.42" y="457.79" text-anchor="start" dominant-baseline="central" transform="rotate(-5.71 918.42 457.79)">200</text>
<text class="tl" x="920.43" y="491.69" text-anchor="start" dominant-baseline="central" transform="rotate(-1.08 920.43 491.69)">100</text>
<text class="tl" x="920.39" y="509.10" text-anchor="start" dominant-baseline="central" transform="rotate(1.29 920.39 509.10)">200</text>
<text class="tl" x="919.64" y="526.49" text-anchor="start" dominant-baseline="central" transform="rotate(3.67 919.64 526.49)">300</text>
<text class="tl" x="918.17" y="543.83" text-anchor="start" dominant-baseline="central" transform="rotate(6.04 918.17 543.83)">400</text>
<text class="tl" x="915.98" y="561.10" text-anchor="start" dominant-baseline="central" transform="rotate(8.41 915.98 561.10)">500</text>
<text class="tl" x="913.08" y="578.26" text-anchor="start" dominant-baseline="central" transform="rotate(10.78 913.08 578.26)">600</text>
<text class="tl" x="909.47" y="595.29" text-anchor="start" dominant-baseline="central" transform="rotate(13.15 909.47 595.29)">700</text>
<text class="tl" x="905.16" y="612.16" text-anchor="start" dominant-baseline="central" transform="rotate(15.53 905.16 612.16)">800</text>
<text class="tl" x="900.15" y="628.83" text-anchor="start" dominant-baseline="central" transform="rotate(17.90 900.15 628.83)">900</text>
<text class="tl" x="894.46" y="645.28" text-anchor="start" dominant-baseline="central" transform="rotate(20.27 894.46 645.28)">1000</text>
<text class="tl" x="888.09" y="661.48" text-anchor="start" dominant-baseline="central" transform="rotate(22.64 888.09 661.48)">1100</text>
<text class="tl" x="881.06" y="677.40" text-anchor="start" dominant-baseline="central" transform="rotate(25.01 881.06 677.40)">1200</text>
<text class="tl" x="873.37" y="693.02" text-anchor="start" dominant-baseline="central" transform="rotate(27.39 873.37 693.02)">1300</text>
<text class="tl" x="865.05" y="708.31" text-anchor="start" dominant-baseline="central" transform="rotate(29.76 865.05 708.31)">1400</text>
<text class="tl" x="856.10" y="723.24" text-anchor="start" dominant-baseline="central" transform="rotate(32.13 856.10 723.24)">1500</text>
<text class="tl" x="833.95" y="755.13" text-anchor="start" dominant-baseline="central" transform="rotate(37.42 833.95 755.13)">100</text>
<text class="tl" x="823.09" y="768.73" text-anchor="start" dominant-baseline="central" transform="rotate(39.79 823.09 768.73)">200</text>
<text class="tl" x="794.36" y="799.89" text-anchor="start" dominant-baseline="central" transform="rotate(45.57 794.36 799.89)">100</text>
<text class="tl" x="769.55" y="822.34" text-anchor="start" dominant-baseline="central" transform="rotate(50.13 769.55 822.34)">100</text>
<text class="tl" x="755.96" y="833.22" text-anchor="start" dominant-baseline="central" transform="rotate(52.50 755.96 833.22)">200</text>
<text class="tl" x="741.93" y="843.53" text-anchor="start" dominant-baseline="central" transform="rotate(54.88 741.93 843.53)">300</text>
<text class="tl" x="727.49" y="853.25" text-anchor="start" dominant-baseline="central" transform="rotate(57.25 727.49 853.25)">400</text>
<text class="tl" x="712.66" y="862.36" text-anchor="start" dominant-baseline="central" transform="rotate(59.62 712.66 862.36)">500</text>
<text class="tl" x="697.46" y="870.85" text-anchor="start" dominant-baseline="central" transform="rotate(61.99 697.46 870.85)">600</text>
<text class="tl" x="681.93" y="878.71" text-anchor="start" dominant-baseline="central" transform="rotate(64.36 681.93 878.71)">700</text>
<text class="tl" x="666.08" y="885.91" text-anchor="start" dominant-baseline="central" transform="rotate(66.74 666.08 885.91)">800</text>
<text class="tl" x="649.95" y="892.45" text-anchor="start" dominant-baseline="central" transform="rotate(69.11 649.95 892.45)">900</text>
<text class="tl" x="633.57" y="898.32" text-anchor="start" dominant-baseline="central" transform="rotate(71.48 633.57 898.32)">1000</text>
<text class="tl" x="616.95" y="903.51" text-anchor="start" dominant-baseline="central" transform="rotate(73.85 616.95 903.51)">1100</text>
<text class="tl" x="600.13" y="908.00" text-anchor="start" dominant-baseline="central" transform="rotate(76.22 600.13 908.00)">1200</text>
<text class="tl" x="583.14" y="911.80" text-anchor="start" dominant-baseline="central" transform="rotate(78.60 583.14 911.80)">1300</text>
<text class="tl" x="566.01" y="914.89" text-anchor="start" dominant-baseline="central" transform="rotate(80.97 566.01 914.89)">1400</text>
<text class="tl" x="548.77" y="917.26" text-anchor="start" dominant-baseline="central" transform="rotate(83.34 548.77 917.26)">1500</text>
<text class="tl" x="531.44" y="918.92" text-anchor="start" dominant-baseline="central" transform="rotate(85.71 531.44 918.92)">1600</text>
<text class="tl" x="492.50" y="920.03" text-anchor="end" dominant-baseline="central" transform="rotate(271.02 492.50 920.03)">100</text>
<text class="tl" x="475.11" y="919.36" text-anchor="end" dominant-baseline="central" transform="rotate(273.39 475.11 919.36)">200</text>
<text class="tl" x="457.75" y="917.97" text-anchor="end" dominant-baseline="central" transform="rotate(275.77 457.75 917.97)">300</text>
<text class="tl" x="440.47" y="915.87" text-anchor="end" dominant-baseline="central" transform="rotate(278.14 440.47 915.87)">400</text>
<text class="tl" x="423.30" y="913.05" text-anchor="end" dominant-baseline="central" transform="rotate(280.51 423.30 913.05)">500</text>
<text class="tl" x="406.25" y="909.52" text-anchor="end" dominant-baseline="central" transform="rotate(282.88 406.25 909.52)">600</text>
<text class="tl" x="389.37" y="905.29" text-anchor="end" dominant-baseline="central" transform="rotate(285.25 389.37 905.29)">700</text>
<text class="tl" x="372.67" y="900.36" text-anchor="end" dominant-baseline="central" transform="rotate(287.63 372.67 900.36)">800</text>
<text class="tl" x="356.19" y="894.75" text-anchor="end" dominant-baseline="central" transform="rotate(290.00 356.19 894.75)">900</text>
<text class="tl" x="317.83" y="878.59" text-anchor="end" dominant-baseline="central" transform="rotate(295.67 317.83 878.59)">100</text>
<text class="tl" x="302.30" y="870.73" text-anchor="end" dominant-baseline="central" transform="rotate(298.04 302.30 870.73)">200</text>
<text class="tl" x="287.11" y="862.23" text-anchor="end" dominant-baseline="central" transform="rotate(300.42 287.11 862.23)">300</text>
<text class="tl" x="272.29" y="853.11" text-anchor="end" dominant-baseline="central" transform="rotate(302.79 272.29 853.11)">400</text>
<text class="tl" x="257.85" y="843.38" text-anchor="end" dominant-baseline="central" transform="rotate(305.16 257.85 843.38)">500</text>
<text class="tl" x="221.80" y="814.91" text-anchor="end" dominant-baseline="central" transform="rotate(311.42 221.80 814.91)">100</text>
<text class="tl" x="208.99" y="803.13" text-anchor="end" dominant-baseline="central" transform="rotate(313.79 208.99 803.13)">200</text>
<text class="tl" x="196.67" y="790.83" text-anchor="end" dominant-baseline="central" transform="rotate(316.17 196.67 790.83)">300</text>
<text class="tl" x="184.88" y="778.02" text-anchor="end" dominant-baseline="central" transform="rotate(318.54 184.88 778.02)">400</text>
<text class="tl" x="173.63" y="764.74" text-anchor="end" dominant-baseline="central" transform="rotate(320.91 173.63 764.74)">500</text>
<text class="tl" x="162.93" y="751.01" text-anchor="end" dominant-baseline="central" transform="rotate(323.28 162.93 751.01)">600</text>
<text class="tl" x="152.82" y="736.84" text-anchor="end" dominant-baseline="central" transform="rotate(325.65 152.82 736.84)">700</text>
<text class="tl" x="143.29" y="722.27" text-anchor="end" dominant-baseline="central" transform="rotate(328.03 143.29 722.27)">800</text>
<text class="tl" x="134.38" y="707.32" text-anchor="end" dominant-baseline="central" transform="rotate(330.40 134.38 707.32)">900</text>
<text class="tl" x="126.10" y="692.01" text-anchor="end" dominant-baseline="central" transform="rotate(332.77 126.10 692.01)">1000</text>
<text class="tl" x="118.46" y="676.37" text-anchor="end" dominant-baseline="central" transform="rotate(335.14 118.46 676.37)">1100</text>
<text class="tl" x="111.47" y="660.42" text-anchor="end" dominant-baseline="central" transform="rotate(337.51 111.47 660.42)">1200</text>
<text class="tl" x="105.15" y="644.21" text-anchor="end" dominant-baseline="central" transform="rotate(339.89 105.15 644.21)">1300</text>
<text class="tl" x="99.50" y="627.74" text-anchor="end" dominant-baseline="central" transform="rotate(342.26 99.50 627.74)">1400</text>
<text class="tl" x="94.54" y="611.05" text-anchor="end" dominant-baseline="central" transform="rotate(344.63 94.54 611.05)">1500</text>
<text class="tl" x="90.27" y="594.18" text-anchor="end" dominant-baseline="central" transform="rotate(347.00 90.27 594.18)">1600</text>
<text class="tl" x="86.71" y="577.14" text-anchor="end" dominant-baseline="central" transform="rotate(349.37 86.71 577.14)">1700</text>
<text class="tl" x="83.86" y="559.97" text-anchor="end" dominant-baseline="central" transform="rotate(351.75 83.86 559.97)">1800</text>
<text class="tl" x="81.71" y="542.69" text-anchor="end" dominant-baseline="central" transform="rotate(354.12 81.71 542.69)">1900</text>
<text class="tl" x="80.29" y="525.34" text-anchor="end" dominant-baseline="central" transform="rotate(356.49 80.29 525.34)">2000</text>
<text class="tl" x="79.58" y="507.95" text-anchor="end" dominant-baseline="central" transform="rotate(358.86 79.58 507.95)">2100</text>
<text class="tl" x="79.60" y="490.54" text-anchor="end" dominant-baseline="central" transform="rotate(361.23 79.60 490.54)">2200</text>
<text class="tl" x="80.33" y="473.15" text-anchor="end" dominant-baseline="central" transform="rotate(363.61 80.33 473.15)">2300</text>
<text class="tl" x="81.79" y="455.81" text-anchor="end" dominant-baseline="central" transform="rotate(365.98 81.79 455.81)">2400</text>
<text class="tl" x="89.11" y="410.22" text-anchor="end" dominant-baseline="central" transform="rotate(372.27 89.11 410.22)">100</text>
<text class="tl" x="93.16" y="393.29" text-anchor="end" dominant-baseline="central" transform="rotate(374.64 93.16 393.29)">200</text>
<text class="tl" x="97.91" y="376.55" text-anchor="end" dominant-baseline="central" transform="rotate(377.02 97.91 376.55)">300</text>
<text class="tl" x="103.35" y="360.01" text-anchor="end" dominant-baseline="central" transform="rotate(379.39 103.35 360.01)">400</text>
<text class="tl" x="109.46" y="343.71" text-anchor="end" dominant-baseline="central" transform="rotate(381.76 109.46 343.71)">500</text>
<text class="tl" x="116.25" y="327.68" text-anchor="end" dominant-baseline="central" transform="rotate(384.13 116.25 327.68)">600</text>
<text class="tl" x="123.69" y="311.95" text-anchor="end" dominant-baseline="central" transform="rotate(386.50 123.69 311.95)">700</text>
<text class="tl" x="141.74" y="279.44" text-anchor="end" dominant-baseline="central" transform="rotate(391.57 141.74 279.44)">100</text>
<text class="tl" x="151.16" y="264.80" text-anchor="end" dominant-baseline="central" transform="rotate(393.94 151.16 264.80)">200</text>
<text class="tl" x="161.18" y="250.56" text-anchor="end" dominant-baseline="central" transform="rotate(396.32 161.18 250.56)">300</text>
<text class="tl" x="171.77" y="236.75" text-anchor="end" dominant-baseline="central" transform="rotate(398.69 171.77 236.75)">400</text>
<text class="tl" x="182.93" y="223.39" text-anchor="end" dominant-baseline="central" transform="rotate(401.06 182.93 223.39)">500</text>
<text class="tl" x="194.64" y="210.51" text-anchor="end" dominant-baseline="central" transform="rotate(403.43 194.64 210.51)">600</text>
<text class="tl" x="206.86" y="198.12" text-anchor="end" dominant-baseline="central" transform="rotate(405.80 206.86 198.12)">700</text>
<text class="tl" x="219.59" y="186.24" text-anchor="end" dominant-baseline="central" transform="rotate(408.18 219.59 186.24)">800</text>
<text class="tl" x="232.80" y="174.91" text-anchor="end" dominant-baseline="central" transform="rotate(410.55 232.80 174.91)">900</text>
<text class="tl" x="246.47" y="164.13" text-anchor="end" dominant-baseline="central" transform="rotate(412.92 246.47 164.13)">1000</text>
<text class="tl" x="260.57" y="153.92" text-anchor="end" dominant-baseline="central" transform="rotate(415.29 260.57 153.92)">1100</text>
<text class="tl" x="275.08" y="144.31" text-anchor="end" dominant-baseline="central" transform="rotate(417.66 275.08 144.31)">1200</text>
<text class="tl" x="289.98" y="135.30" text-anchor="end" dominant-baseline="central" transform="rotate(420.04 289.98 135.30)">1300</text>
<text class="tl" x="305.24" y="126.92" text-anchor="end" dominant-baseline="central" transform="rotate(422.41 305.24 126.92)">1400</text>
<text class="tl" x="320.83" y="119.18" text-anchor="end" dominant-baseline="central" transform="rotate(424.78 320.83 119.18)">1500</text>
<text class="tl" x="336.73" y="112.09" text-anchor="end" dominant-baseline="central" transform="rotate(427.15 336.73 112.09)">1600</text>
<text class="tl" x="352.90" y="105.67" text-anchor="end" dominant-baseline="central" transform="rotate(429.52 352.90 105.67)">1700</text>
<text class="tl" x="369.33" y="99.92" text-anchor="end" dominant-baseline="central" transform="rotate(431.90 369.33 99.92)">1800</text>
<text class="tl" x="409.86" y="88.87" text-anchor="end" dominant-baseline="central" transform="rotate(437.62 409.86 88.87)">100</text>
<text class="tl" x="426.94" y="85.50" text-anchor="end" dominant-baseline="central" transform="rotate(439.99 426.94 85.50)">200</text>
<text class="tl" x="444.14" y="82.83" text-anchor="end" dominant-baseline="central" transform="rotate(442.37 444.14 82.83)">300</text>
<text class="tl" x="461.44" y="80.87" text-anchor="end" dominant-baseline="central" transform="rotate(444.74 461.44 80.87)">400</text>
<text class="tl" x="478.80" y="79.63" text-anchor="end" dominant-baseline="central" transform="rotate(447.11 478.80 79.63)">500</text>
<text class="nm" x="557.18" y="43.17" text-anchor="middle" dominant-baseline="central" transform="rotate(7.14 557.18 43.17)">PRFA01000011</text>
<text class="nm" x="783.52" y="137.36" text-anchor="middle" dominant-baseline="central" transform="rotate(38.05 783.52 137.36)">TcDm25<tspan class="u">__</tspan>Chr03<tspan class="u">__</tspan>H1</text>
<text class="nm" x="932.05" y="341.71" text-anchor="middle" dominant-baseline="central" transform="rotate(69.92 932.05 341.71)">TcDm25<tspan class="u">__</tspan>Chr03<tspan class="u">__</tspan>H2<tspan class="u">__</tspan>c1</text>
<text class="nm" x="955.74" y="437.13" text-anchor="middle" dominant-baseline="central" transform="rotate(82.19 955.74 437.13)">TcDm25<tspan class="u">__</tspan>Chr03<tspan class="u">__</tspan>H2<tspan class="u">__</tspan>c2</text>
<text class="nm" x="944.74" y="617.11" text-anchor="middle" dominant-baseline="central" transform="rotate(-75.20 944.74 617.11)">TcDm25<tspan class="u">__</tspan>Chr06<tspan class="u">__</tspan>H2<tspan class="u">__</tspan>c2</text>
<text class="nm" x="861.77" y="783.72" text-anchor="middle" dominant-baseline="central" transform="rotate(-51.85 861.77 783.72)">TcDm25<tspan class="u">__</tspan>Chr22<tspan class="u">__</tspan>H1<tspan class="u">__</tspan>c2</text>
<text class="nm" x="828.10" y="822.02" text-anchor="middle" dominant-baseline="central" transform="rotate(-45.50 828.10 822.02)">TcDm25<tspan class="u">__</tspan>Chr22<tspan class="u">__</tspan>H2<tspan class="u">__</tspan>c2</text>
<text class="nm" x="677.29" y="924.06" text-anchor="middle" dominant-baseline="central" transform="rotate(-22.67 677.29 924.06)">TcDm25<tspan class="u">__</tspan>Chr06<tspan class="u">__</tspan>H1</text>
<text class="nm" x="420.32" y="952.65" text-anchor="middle" dominant-baseline="central" transform="rotate(9.98 420.32 952.65)">TcDm25<tspan class="u">__</tspan>Chr17<tspan class="u">__</tspan>H2<tspan class="u">__</tspan>c1</text>
<text class="nm" x="267.64" y="896.60" text-anchor="middle" dominant-baseline="central" transform="rotate(30.34 267.64 896.60)">TcDm25<tspan class="u">__</tspan>Chr26<tspan class="u">__</tspan>H2<tspan class="u">__</tspan>c1</text>
<text class="nm" x="72.04" y="668.27" text-anchor="middle" dominant-baseline="central" transform="rotate(68.49 72.04 668.27)">TcDm25<tspan class="u">__</tspan>Chr30<tspan class="u">__</tspan>H1<tspan class="u">__</tspan>c1</text>
<text class="nm" x="64.12" y="352.61" text-anchor="middle" dominant-baseline="central" transform="rotate(288.63 64.12 352.61)">TcDm25<tspan class="u">__</tspan>Chr01<tspan class="u">__</tspan>H1</text>
<text class="nm" x="213.05" y="140.08" text-anchor="middle" dominant-baseline="central" transform="rotate(321.40 213.05 140.08)">TcDm25<tspan class="u">__</tspan>Chr32<tspan class="u">__</tspan>H1</text>
<text class="nm" x="434.39" y="44.30" text-anchor="middle" dominant-baseline="central" transform="rotate(351.80 434.39 44.30)">TcDm25<tspan class="u">__</tspan>Chr01<tspan class="u">__</tspan>H2<tspan class="u">__</tspan>c1</text>
</svg></body></html>
